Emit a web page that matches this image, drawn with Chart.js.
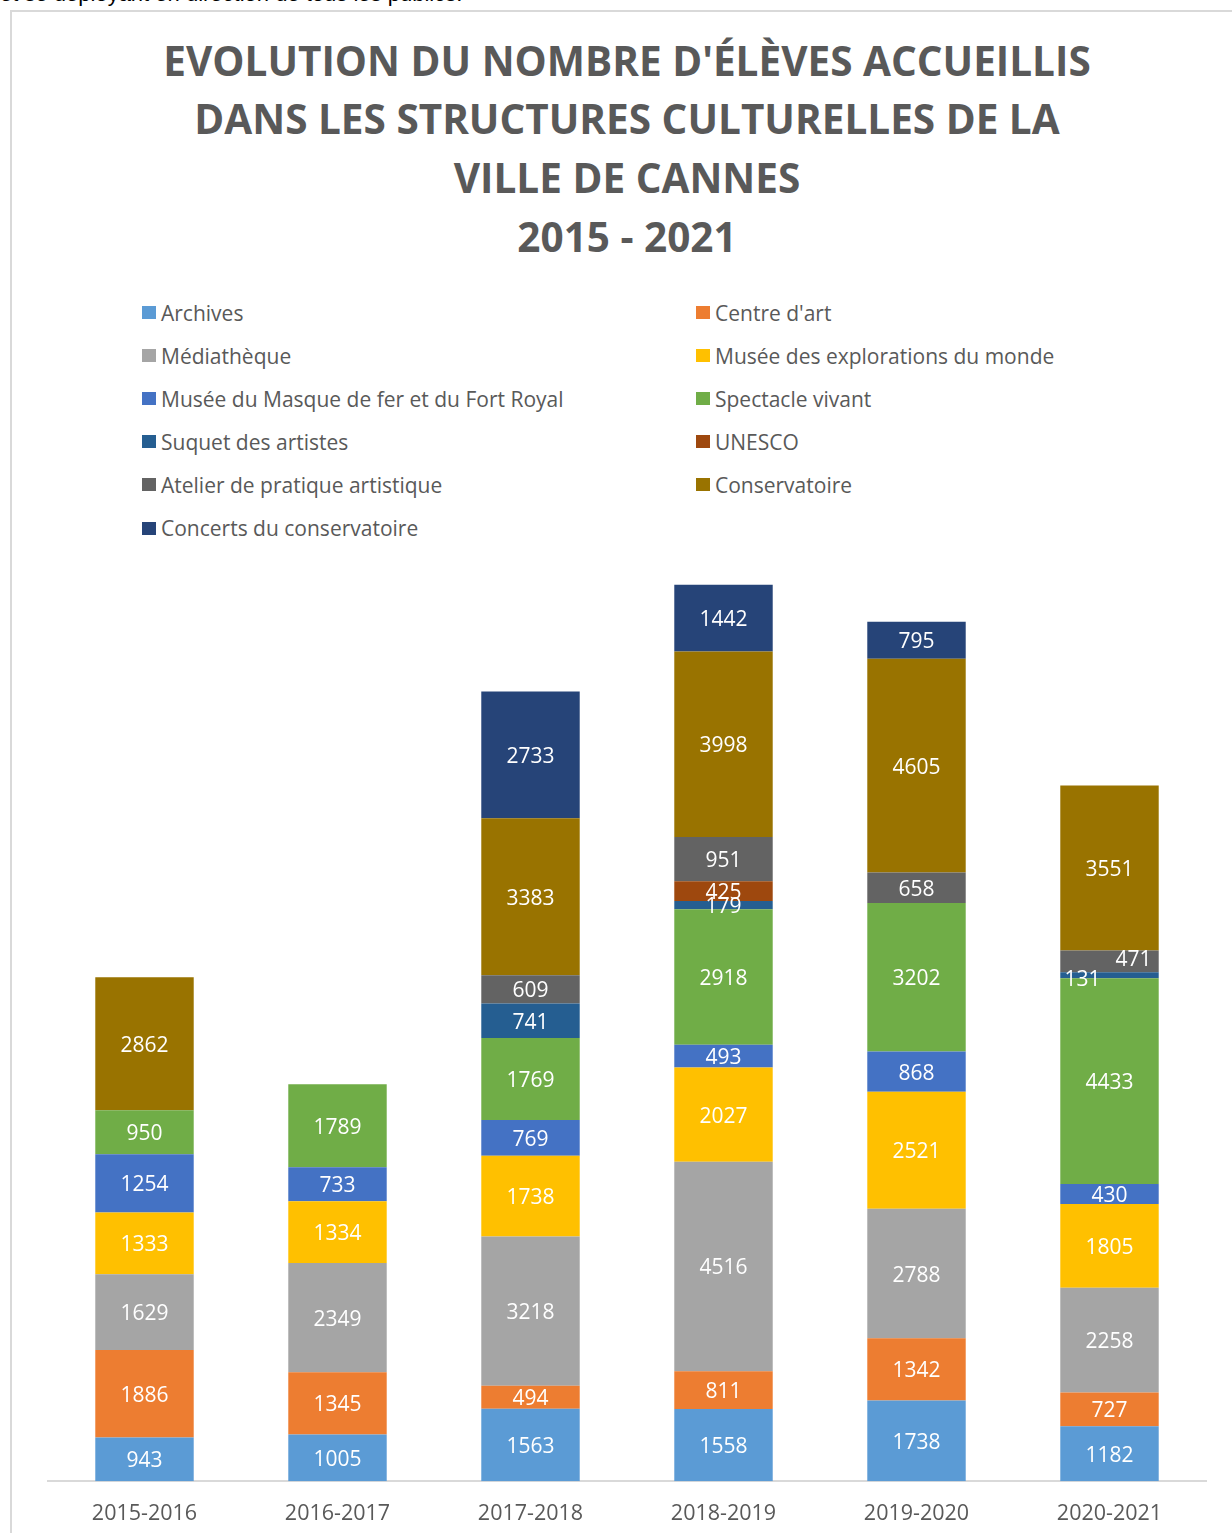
<!DOCTYPE html>
<html>
<head>
<meta charset="utf-8">
<script src="https://cdn.jsdelivr.net/npm/chart.js@4.4.0/dist/chart.umd.min.js"></script>
<style>
  html, body { margin:0; padding:0; background:#fff; }
  body { width:1232px; height:1533px; overflow:hidden; position:relative; }
  #pre { position:absolute; left:0; top:-17px; font:22px "Liberation Sans", Arial, sans-serif; line-height:22px; color:#000; white-space:nowrap; }
  #frame { position:absolute; left:10px; top:10px; width:1240px; height:1560px; border:2px solid #d9d9d9; box-sizing:border-box; }
  #title { position:absolute; left:0; width:1254px; top:31.5px; text-align:center; font:bold 40.5px "Open Sans", sans-serif; line-height:58.8px; color:#595959; }
  #legend { position:absolute; left:142px; top:291px; display:grid; grid-template-columns:554px 500px; row-gap:0; font:21px "Open Sans", sans-serif; color:#595959; }
  #legend .it { height:43.1px; display:flex; align-items:center; white-space:nowrap; }
  #legend .sw { width:14px; height:13px; margin-right:5px; flex:none; }
  #wrap { position:absolute; left:0; top:0; width:1232px; height:1555px; }
</style>
</head>
<body>
<div id="pre">et se déployant en direction de tous les publics.</div>
<div id="frame"></div>
<div id="title">EVOLUTION DU NOMBRE D'ÉLÈVES ACCUEILLIS<br>DANS LES STRUCTURES CULTURELLES DE LA<br>VILLE DE CANNES<br>2015 - 2021</div>
<div id="legend"></div>
<div id="wrap"><canvas id="c" width="1232" height="1555"></canvas></div>
<script>
const categories = ["2015-2016", "2016-2017", "2017-2018", "2018-2019", "2019-2020", "2020-2021"];
const archives      = [943, 1005, 1563, 1558, 1738, 1182];
const centreArt     = [1886, 1345, 494, 811, 1342, 727];
const mediatheque   = [1629, 2349, 3218, 4516, 2788, 2258];
const museeExplo    = [1333, 1334, 1738, 2027, 2521, 1805];
const museeMasque   = [1254, 733, 769, 493, 868, 430];
const spectacle     = [950, 1789, 1769, 2918, 3202, 4433];
const suquet        = [null, null, 741, 179, null, 131];
const unesco        = [null, null, null, 425, null, null];
const atelier       = [null, null, 609, 951, 658, 471];
const conservatoire = [2862, null, 3383, 3998, 4605, 3551];
const concerts      = [null, null, 2733, 1442, 795, null];

const seriesNames = ["Archives", "Centre d'art", "Médiathèque", "Musée des explorations du monde",
  "Musée du Masque de fer et du Fort Royal", "Spectacle vivant", "Suquet des artistes", "UNESCO",
  "Atelier de pratique artistique", "Conservatoire", "Concerts du conservatoire"];
const seriesValues = [archives, centreArt, mediatheque, museeExplo, museeMasque, spectacle, suquet, unesco, atelier, conservatoire, concerts];
const seriesColors = ["#5B9BD5", "#ED7D31", "#A5A5A5", "#FFC000", "#4472C4", "#70AD47", "#255E91", "#9E480E", "#636363", "#997300", "#264478"];

// legend (HTML, two columns)
const lg = document.getElementById('legend');
seriesNames.forEach((n, i) => {
  const d = document.createElement('div'); d.className = 'it';
  const s = document.createElement('span'); s.className = 'sw'; s.style.background = seriesColors[i];
  const t = document.createElement('span'); t.textContent = n;
  d.appendChild(s); d.appendChild(t); lg.appendChild(d);
});

// small label nudges for crowded segments (dataset index -> category index -> [dx, dy])
const labelNudge = { 6: { 5: [-27, 3] }, 8: { 5: [24, -3] } };

const labelPlugin = {
  id: 'segLabels',
  afterDatasetsDraw(chart) {
    const ctx = chart.ctx;
    ctx.save();
    ctx.font = '21px "Open Sans", sans-serif';
    ctx.fillStyle = '#ffffff';
    ctx.textAlign = 'center';
    ctx.textBaseline = 'middle';
    chart.data.datasets.forEach((ds, di) => {
      const meta = chart.getDatasetMeta(di);
      meta.data.forEach((el, i) => {
        const v = ds.data[i];
        if (v === null || v === undefined) return;
        const n = (labelNudge[di] && labelNudge[di][i]) || [0, 0];
        const y = (el.y + el.base) / 2 + 2 + n[1];
        ctx.fillText(String(v), el.x + n[0], y);
      });
    });
    ctx.restore();
  }
};

new Chart(document.getElementById('c'), {
  type: 'bar',
  data: {
    labels: categories,
    datasets: seriesNames.map((n, i) => ({
      label: n,
      data: seriesValues[i],
      backgroundColor: seriesColors[i],
      borderWidth: 0,
      barPercentage: 0.51,
      categoryPercentage: 1.0
    }))
  },
  options: {
    responsive: false,
    animation: false,
    devicePixelRatio: 1,
    layout: { padding: { top: 553, left: 48, right: 26, bottom: 8 } },
    plugins: {
      legend: { display: false },
      title: { display: false },
      tooltip: { enabled: false }
    },
    scales: {
      x: {
        stacked: true,
        grid: { display: false, drawTicks: false },
        border: { display: true, color: '#d9d9d9', width: 2 },
        ticks: { color: '#595959', font: { family: 'Open Sans', size: 21.5 }, padding: 20 }
      },
      y: {
        stacked: true,
        display: false,
        min: 0,
        max: 20000
      }
    }
  },
  plugins: [labelPlugin]
});
</script>
</body>
</html>
